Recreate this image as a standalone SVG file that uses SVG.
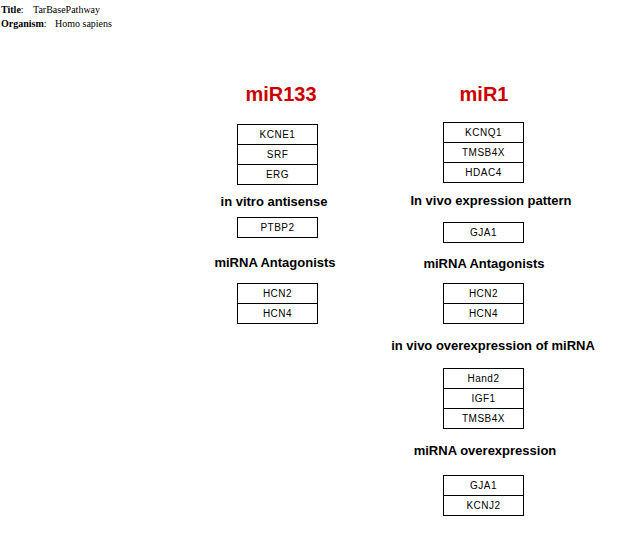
<svg xmlns="http://www.w3.org/2000/svg" width="626" height="545" viewBox="0 0 626 545">
<style>
.hdr{font-family:"Liberation Serif",serif;font-size:10px;fill:#000}
.hb{font-weight:bold}
.mir{font-family:"Liberation Sans",Arial,sans-serif;font-size:20px;font-weight:bold;fill:#cc0000;text-anchor:middle}
.lbl{font-family:"Liberation Sans",Arial,sans-serif;font-size:13px;font-weight:bold;fill:#000;text-anchor:middle}
.gene rect{fill:#fff;stroke:#000;stroke-width:1}
.gene text{font-family:"Liberation Sans",Arial,sans-serif;font-size:10px;fill:#000;text-anchor:middle;letter-spacing:0.5px}
</style>
<rect width="626" height="545" fill="#fff"/>
<g id="header">
<text class="hdr" x="1" y="13"><tspan class="hb">Title</tspan>:</text>
<text class="hdr" x="33" y="13">TarBasePathway</text>
<text class="hdr" x="1" y="27"><tspan class="hb">Organism</tspan>:</text>
<text class="hdr" x="55" y="27">Homo sapiens</text>
</g>
<g id="labels">
<text class="mir" x="281" y="101">miR133</text>
<text class="mir" x="484" y="101">miR1</text>
<text class="lbl" x="274" y="206">in vitro antisense</text>
<text class="lbl" x="275" y="267">miRNA Antagonists</text>
<text class="lbl" x="491" y="205">In vivo expression pattern</text>
<text class="lbl" x="484" y="268">miRNA Antagonists</text>
<text class="lbl" x="493" y="350">in vivo overexpression of miRNA</text>
<text class="lbl" x="485" y="455">miRNA overexpression</text>
</g>
<g id="connectors"></g>
<g id="KCNE1" class="gene"><rect x="237.5" y="124.5" width="80" height="20"/><text x="277.5" y="138">KCNE1</text></g>
<g id="SRF" class="gene"><rect x="237.5" y="144.5" width="80" height="20"/><text x="277.5" y="158">SRF</text></g>
<g id="ERG" class="gene"><rect x="237.5" y="164.5" width="80" height="20"/><text x="277.5" y="178">ERG</text></g>
<g id="PTBP2" class="gene"><rect x="237.5" y="217.5" width="80" height="20"/><text x="277.5" y="231">PTBP2</text></g>
<g id="HCN2a" class="gene"><rect x="237.5" y="283.5" width="80" height="20"/><text x="277.5" y="297">HCN2</text></g>
<g id="HCN4a" class="gene"><rect x="237.5" y="303.5" width="80" height="20"/><text x="277.5" y="317">HCN4</text></g>
<g id="KCNQ1" class="gene"><rect x="443.5" y="122.5" width="80" height="20"/><text x="483.5" y="136">KCNQ1</text></g>
<g id="TMSB4Xa" class="gene"><rect x="443.5" y="142.5" width="80" height="20"/><text x="483.5" y="156">TMSB4X</text></g>
<g id="HDAC4" class="gene"><rect x="443.5" y="162.5" width="80" height="20"/><text x="483.5" y="176">HDAC4</text></g>
<g id="GJA1a" class="gene"><rect x="443.5" y="222.5" width="80" height="20"/><text x="483.5" y="236">GJA1</text></g>
<g id="HCN2b" class="gene"><rect x="443.5" y="283.5" width="80" height="20"/><text x="483.5" y="297">HCN2</text></g>
<g id="HCN4b" class="gene"><rect x="443.5" y="303.5" width="80" height="20"/><text x="483.5" y="317">HCN4</text></g>
<g id="Hand2" class="gene"><rect x="443.5" y="368.5" width="80" height="20"/><text x="483.5" y="382">Hand2</text></g>
<g id="IGF1" class="gene"><rect x="443.5" y="388.5" width="80" height="20"/><text x="483.5" y="402">IGF1</text></g>
<g id="TMSB4Xb" class="gene"><rect x="443.5" y="408.5" width="80" height="20"/><text x="483.5" y="422">TMSB4X</text></g>
<g id="GJA1b" class="gene"><rect x="443.5" y="475.5" width="80" height="20"/><text x="483.5" y="489">GJA1</text></g>
<g id="KCNJ2" class="gene"><rect x="443.5" y="495.5" width="80" height="20"/><text x="483.5" y="509">KCNJ2</text></g>
</svg>
